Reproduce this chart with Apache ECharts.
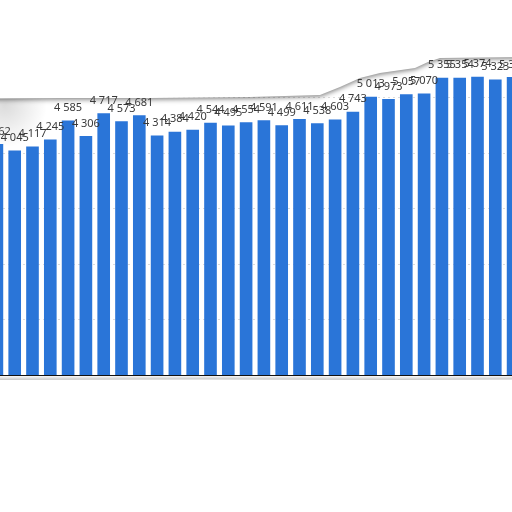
<!DOCTYPE html>
<html>
<head>
<meta charset="utf-8">
<script src="https://cdn.jsdelivr.net/npm/echarts@6/dist/echarts.min.js"></script>
<style>
html,body{margin:0;padding:0;background:#fff;overflow:hidden;width:512px;height:512px;}
#chart{width:534px;height:512px;position:absolute;left:-12px;top:0;}
</style>
</head>
<body>
<div id="chart"></div>
<script>
// Data (visible part of the chart)
const categories = ['1','2','3','4','5','6','7','8','9','10','11','12','13','14','15',
  '16','17','18','19','20','21','22','23','24','25','26','27','28','29','30'];
const values = [4162, 4045, 4117, 4245, 4585, 4306, 4717, 4573, 4681, 4314,
  4384, 4420, 4544, 4495, 4554, 4591, 4499, 4611, 4538, 4603,
  4743, 5013, 4973, 5057, 5070, 5355, 5354, 5374, 5323, 5370];
const yTicks = [0, 1000, 2000, 3000, 4000, 5000, 6000];

function fmt(v){ return String(v).replace(/\B(?=(\d{3})+(?!\d))/g, ' '); }
const OX = 12; // canvas is shifted 12px to the left of the page
function sh(pts){ return pts.map(p => [p[0] + OX, p[1]]); }

const chart = echarts.init(document.getElementById('chart'));
chart.setOption({
  backgroundColor: '#ffffff',
  animation: false,
  grid: { left: 0, right: 0, top: 42, bottom: 137 },
  xAxis: {
    type: 'category',
    data: categories,
    axisLine: { show: true, lineStyle: { color: '#111', width: 1 } },
    axisTick: { show: false },
    axisLabel: { show: false }
  },
  yAxis: {
    type: 'value',
    min: yTicks[0],
    max: yTicks[yTicks.length - 1],
    interval: 1000,
    axisLabel: { show: false },
    axisLine: { show: false },
    axisTick: { show: false },
    splitLine: {
      show: true,
      lineStyle: {
        type: [2, 3],
        color: ['#dcdcdc','#dcdcdc','#dcdcdc','#dcdcdc','#dcdcdc','#dcdcdc','rgba(0,0,0,0)']
      }
    }
  },
  graphic: [
    {
      type: 'circle', z: 1,
      shape: { cx: 5 + OX, cy: 105, r: 42 },
      style: {
        fill: new echarts.graphic.RadialGradient(0.5, 0.5, 0.5, [
          { offset: 0, color: 'rgba(0,0,0,0.14)' },
          { offset: 1, color: 'rgba(0,0,0,0)' }
        ])
      }
    },
    {
      type: 'polygon', z: 1,
      shape: { points: sh([[-20,-10],[530,-10],[530,57],[440,58],[428,62],[415,68],[380,73],[360,78],[340,87],[320,95],[250,97],[150,98],[60,98],[-20,98.5]]) },
      style: { fill: '#ffffff', shadowBlur: 5, shadowColor: 'rgba(0,0,0,0.5)', shadowOffsetY: 1.5 }
    },
    {
      type: 'polygon', z: -1,
      shape: { points: sh([[-20,380],[200,379.5],[400,380],[530,379.5],[530,522],[-20,522]]) },
      style: { fill: '#ffffff', shadowBlur: 4, shadowColor: 'rgba(0,0,0,0.35)', shadowOffsetY: -1 }
    }
  ],
  series: [{
    type: 'bar',
    z: 3,
    data: values,
    barCategoryGap: '29%',
    itemStyle: { color: '#2a75d8' },
    label: {
      show: true,
      position: 'top',
      distance: 7,
      color: '#3a3a3a',
      fontSize: 11,
      fontFamily: 'Noto Sans, sans-serif',
      formatter: p => fmt(p.value)
    }
  }]
});
</script>
</body>
</html>
